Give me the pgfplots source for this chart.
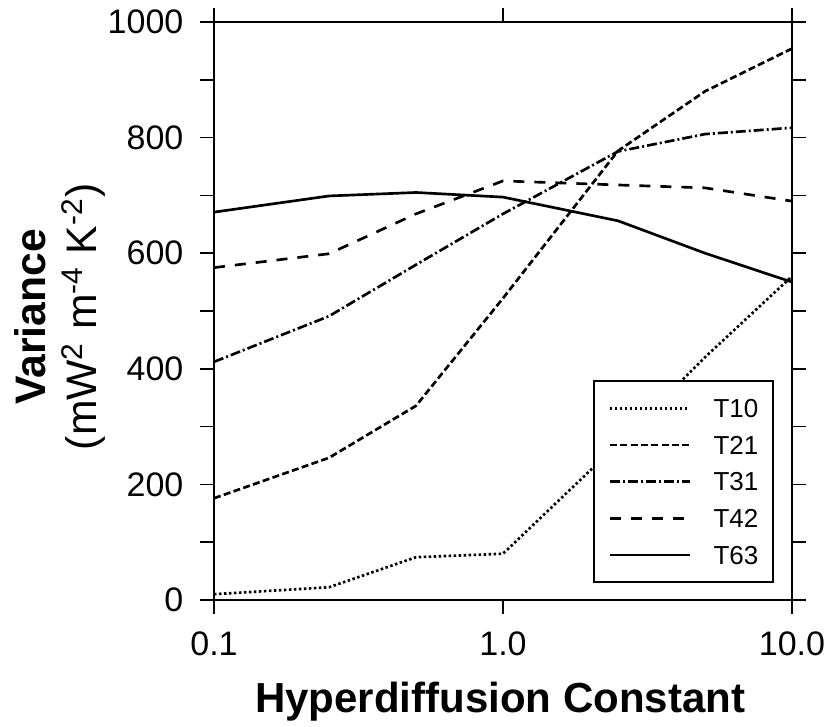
\documentclass[border=0pt]{standalone}
\usepackage{fontspec}
\setmainfont{Liberation Sans}
\usepackage{pgfplots}
\pgfplotsset{compat=1.18}

% variance against hyperdiffusion constant, one line per resolution
\pgfplotstableread{
x    T10  T21  T31  T42  T63
0.1   10  176  412  575  671
0.25  22  246  491  599  699
0.5   74  336  580  668  705
1.0   80  522  668  725  697
2.5  270  777  776  718  656
5.0  420  880  806  713  600
10.0 560  954  817  690  550
}\datatable

\begin{document}
\begin{tikzpicture}
\begin{axis}[
    name=ax,
    scale only axis,
    width=173.4pt,
    height=173.4pt,
    xmode=log,
    xmin=0.1, xmax=10,
    ymin=0, ymax=1000,
    xtick={0.1,1,10},
    xticklabels={0.1,1.0,10.0},
    xminorticks=false,
    ytick={0,200,...,1000},
    minor y tick num=1,
    tick align=outside,
    major tick length=4.2pt,
    minor tick length=4.2pt,
    every tick/.style={black, line width=0.45pt},
    axis line style={line width=0.75pt},
    /pgf/number format/assume math mode=true,
    /pgf/number format/1000 sep={},
    tick label style={font=\fontsize{10.2}{12}\selectfont},
    xticklabel style={anchor=base, yshift=-12.6pt},
    yticklabel style={anchor=east, inner xsep=0pt, xshift=-4.8pt},
    xlabel={\textbf{Hyperdiffusion Constant}},
    xlabel style={font=\fontsize{12.6}{15}\selectfont, at={(axis description cs:0.495,-0.194)}, anchor=base},
    ylabel={\textbf{Variance}\\(mW\textsuperscript{2} m\textsuperscript{-4} K\textsuperscript{-2})},
    ylabel style={font=\fontsize{12.8}{15.3}\selectfont, align=center, at={(axis description cs:-0.266,0.49)}, anchor=center},
    every axis plot/.append style={black, line width=0.8pt},
    legend cell align=left,
    legend image code/.code={\draw[#1] (0pt,0pt) -- (24pt,0pt);},
    legend style={
        at={(1,0)}, anchor=south east, xshift=-5.4pt, yshift=5.1pt,
        draw=black, line width=0.6pt,
        font=\fontsize{7.8}{9}\selectfont,
        inner xsep=4.4pt, inner ysep=5.3pt,
        row sep=5.4pt, column sep=6.7pt,
        nodes={inner xsep=0pt, inner ysep=0pt, text height=5.6pt, text depth=0pt},
    },
]
\addplot[dash pattern=on 0.75pt off 0.75pt] table[x=x, y=T10] {\datatable};
\addlegendentry{T10}
\addplot[dash pattern=on 2.1pt off 1.0pt] table[x=x, y=T21] {\datatable};
\addlegendentry{T21}
\addplot[dash pattern=on 3pt off 0.9pt on 0.6pt off 0.9pt] table[x=x, y=T31] {\datatable};
\addlegendentry{T31}
\addplot[dash pattern=on 3.3pt off 3pt] table[x=x, y=T42] {\datatable};
\addlegendentry{T42}
\addplot[solid] table[x=x, y=T63] {\datatable};
\addlegendentry{T63}
\end{axis}
\pgfresetboundingbox
\path[use as bounding box] ([xshift=-64.2pt,yshift=-38.1pt]ax.south west) rectangle ([xshift=12pt,yshift=6.6pt]ax.north east);
\end{tikzpicture}
\end{document}
